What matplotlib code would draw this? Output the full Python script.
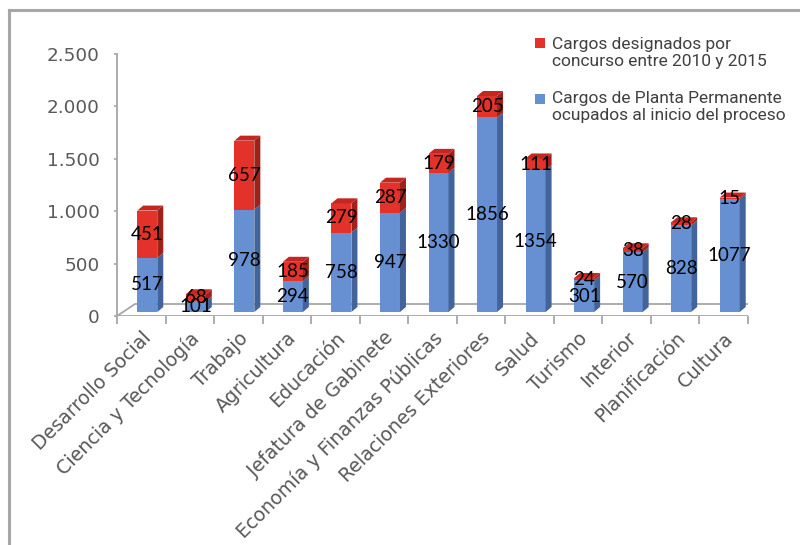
import matplotlib
matplotlib.use("Agg")
import matplotlib.pyplot as plt
from matplotlib.patches import Polygon, Rectangle
from matplotlib.lines import Line2D

categories = ["Desarrollo Social", "Ciencia y Tecnología", "Trabajo", "Agricultura",
              "Educación", "Jefatura de Gabinete", "Economía y Finanzas Públicas",
              "Relaciones Exteriores", "Salud", "Turismo", "Interior",
              "Planificación", "Cultura"]
planta = [517, 101, 978, 294, 758, 947, 1330, 1856, 1354, 301, 570, 828, 1077]
concurso = [451, 68, 657, 185, 279, 287, 179, 205, 111, 24, 38, 28, 15]
yticks = [0, 500, 1000, 1500, 2000, 2500]
ytick_labels = ["0", "500", "1.000", "1.500", "2.000", "2.500"]
legend_labels = ["Cargos designados por\nconcurso entre 2010 y 2015",
                 "Cargos de Planta Permanente\nocupados al inicio del proceso"]

W, H = 800, 545
fig = plt.figure(figsize=(8, 5.45), dpi=100)

# axes geometry in pixels
x0px, x1px = 117, 748
y0px, y1px = 316, 54
ax = fig.add_axes([x0px / W, 1 - y0px / H, (x1px - x0px) / W, (y0px - y1px) / H])
n = len(categories)
ax.set_xlim(-0.5, n - 0.5)
ax.set_ylim(0, 2500)

# data units per pixel
ux = n / (x1px - x0px)
uy = 2500 / (y0px - y1px)

blue_front, blue_side, blue_top = "#6790D2", "#43639B", "#5679B8"
red_front, red_side, red_top = "#E2322A", "#A0201A", "#C4271F"
grey = "#A6A6A6"

# floor (parallelogram)
fdx, fdy = 18 * ux, 12 * uy
floor = Polygon([(-0.5, 0), (n - 0.5, 0), (n - 0.5 + fdx, fdy), (-0.5 + fdx, fdy)],
                closed=True, facecolor="white", edgecolor=grey, lw=1.3, zorder=1)
ax.add_patch(floor)

# bars
bw = 20 * ux
ox, oy = 6 * ux, 4 * uy      # front face offset (depth position)
dx, dy = 6 * ux, 5 * uy      # bar depth

def draw_seg(xc, bottom, h, front, side, top, draw_top, z):
    xl = xc - bw / 2 + ox
    xr = xc + bw / 2 + ox
    yb = bottom + oy
    yt = bottom + h + oy
    ax.add_patch(Rectangle((xl, yb), bw, h, facecolor=front, edgecolor="none", zorder=z))
    ax.add_patch(Polygon([(xr, yb), (xr + dx, yb + dy), (xr + dx, yt + dy), (xr, yt)],
                         closed=True, facecolor=side, edgecolor="none", zorder=z))
    if draw_top:
        ax.add_patch(Polygon([(xl, yt), (xr, yt), (xr + dx, yt + dy), (xl + dx, yt + dy)],
                             closed=True, facecolor=top, edgecolor="none", zorder=z))

label_font = dict(family=["Lato", "DejaVu Sans"], fontsize=13.5, color="black")
for i, (b, r) in enumerate(zip(planta, concurso)):
    draw_seg(i, 0, b, blue_front, blue_side, blue_top, False, 3)
    draw_seg(i, b, r, red_front, red_side, red_top, True, 3)
    ax.text(i + ox, b / 2 + oy, str(b), ha="center", va="center", zorder=5, **label_font)
    ax.text(i + ox, b + r / 2 + oy, str(r), ha="center", va="center", zorder=5, **label_font)

# axes styling
for s in ["top", "right", "bottom"]:
    ax.spines[s].set_visible(False)
ax.spines["left"].set_color(grey)
ax.spines["left"].set_linewidth(1.3)
ax.set_yticks(yticks)
ax.set_yticklabels(ytick_labels, fontsize=13.2, color="#595959", family="DejaVu Sans")
ax.tick_params(axis="y", length=2.5, color=grey, width=1.2, pad=10)

# x ticks at category boundaries (minor), labels at centers
ax.set_xticks([i - 0.5 for i in range(n + 1)], minor=True)
ax.set_xticks(range(n))
ax.tick_params(axis="x", which="minor", length=6, color=grey, width=1.3, direction="out")
ax.tick_params(axis="x", which="major", length=0, pad=9)
ax.set_xticklabels(categories, rotation=45, ha="right", va="top", rotation_mode="anchor",
                   fontsize=13.7, color="#595959", family="DejaVu Sans")
ax.patch.set_visible(False)

# frame lines (top and left)
fig.add_artist(Line2D([8.5 / W, 8.5 / W], [0, 1 - 10 / H], color=grey, lw=2.2))
fig.add_artist(Line2D([8.5 / W, 1], [1 - 10 / H, 1 - 10 / H], color=grey, lw=2.2))

# legend (manual)
leg_font = dict(family=["Roboto", "DejaVu Sans"], fontsize=12.5, color="#404040",
                linespacing=1.15)
fig.add_artist(Rectangle((535 / W, 1 - 48 / H), 10 / W, 10 / H, facecolor=red_front,
                         edgecolor="none", transform=fig.transFigure))
fig.text(552 / W, 1 - 37 / H, legend_labels[0], ha="left", va="top", **leg_font)
fig.add_artist(Rectangle((535 / W, 1 - 104 / H), 10 / W, 10 / H, facecolor=blue_front,
                         edgecolor="none", transform=fig.transFigure))
fig.text(552 / W, 1 - 91 / H, legend_labels[1], ha="left", va="top", **leg_font)

fig.savefig("out.png", dpi=100)
